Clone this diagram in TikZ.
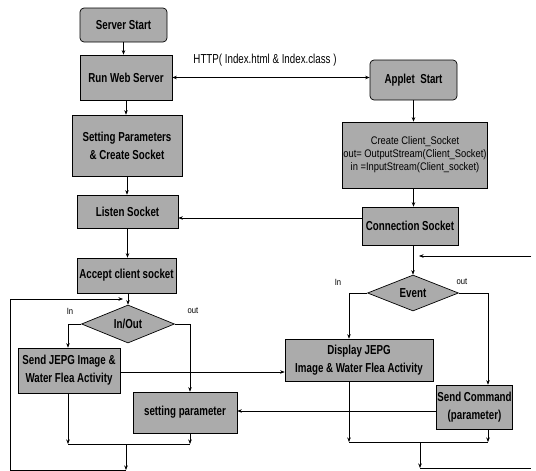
\documentclass[tikz,border=0pt]{standalone}
\usepackage{fontspec}
\setmainfont{Liberation Sans}
\newfontfamily\boxfont[FakeStretch=0.75]{Liberation Sans}
\newfontfamily\thinfont[FakeStretch=0.85]{Liberation Sans}
\usetikzlibrary{shapes.geometric,arrows.meta}
\begin{document}
\begin{tikzpicture}[x=1pt,y=-1pt,
  box/.style={draw=black, line width=0.7pt, fill=black!33, inner sep=1pt, align=center,
    font=\boxfont\bfseries\fontsize{13}{18}\selectfont},
  rbox/.style={box, rounded corners=4pt},
  thinbox/.style={box, font=\thinfont\fontsize{11}{13}\selectfont},
  dia/.style={diamond, draw=black, line width=0.7pt, fill=black!33, inner sep=0pt, aspect=2.4,
    font=\boxfont\bfseries\fontsize{13}{16}\selectfont},
  lbl/.style={inner sep=0pt, font=\thinfont\fontsize{9}{10}\selectfont},
  httplbl/.style={inner sep=0pt, font=\boxfont\fontsize{13}{15}\selectfont},
  arr/.style={-{Stealth[length=4.5pt,width=3.5pt]}, line width=0.5pt},
  dbl/.style={{Stealth[length=4.5pt,width=3.5pt]}-{Stealth[length=4.5pt,width=3.5pt]}, line width=0.5pt},
  ln/.style={line width=0.5pt}]
\useasboundingbox (0,0) rectangle (536,471);

% left column
\node[rbox, minimum width=87pt, minimum height=34pt] (ss) at (123.5,25) {Server Start};
\node[box, minimum width=92pt, minimum height=45pt] (rws) at (126,77.5) {Run Web Server};
\node[box, minimum width=110pt, minimum height=61pt] (sp) at (127,145.5) {Setting Parameters\\\& Create Socket};
\node[box, minimum width=101pt, minimum height=33pt] (ls) at (127.5,211.5) {Listen Socket};
\node[box, minimum width=99pt, minimum height=35pt] (acs) at (126.5,275.5) {Accept client socket};
\node[dia, minimum width=93pt, minimum height=38pt] (io) at (128,324) {In/Out};
\node[box, minimum width=102pt, minimum height=45pt] (sj) at (69,370.5) {Send JEPG Image \&\\Water Flea Activity};
\node[box, minimum width=104pt, minimum height=41pt] (spar) at (185,412.5) {setting parameter};

% right column
\node[rbox, minimum width=87pt, minimum height=40pt] (as) at (413.5,80) {Applet\ \ Start};
\node[thinbox, minimum width=144pt, minimum height=66pt] (cc) at (415,155) {Create\ Client\_Socket\\out= OutputStream(Client\_Socket)\\in =InputStream(Client\_socket)};
\node[box, minimum width=96pt, minimum height=38pt] (cs) at (410,226) {Connection Socket};
\node[dia, minimum width=91pt, minimum height=36pt] (ev) at (413,293) {Event};
\node[box, minimum width=148pt, minimum height=42pt] (dj) at (359,360) {Display JEPG\\Image \& Water Flea Activity};
\node[box, minimum width=65pt, minimum height=44pt] (sc) at (474.5,407) {Send Command\\(parameter)};

% labels
\node[httplbl] (http) at (265,60) {HTTP( Index.html \& Index.class )};
\node[lbl] (lin) at (70,311) {In};
\node[lbl] (lout) at (193,311) {out};
\node[lbl] (rin) at (338,282) {In};
\node[lbl] (rout) at (462,282) {out};

% left vertical flow
\draw[arr] (ss.south) -- (ss.south |- rws.north);
\draw[arr] (rws.south) -- (rws.south |- sp.north);
\draw[arr] (sp.south) -- (sp.south |- ls.north);
\draw[arr] (ls.south) -- (ls.south |- acs.north);
\draw[arr] (acs.south -| io.north) -- (io.north);

% right vertical flow
\draw[arr] (as.south) -- (as.south |- cc.north);
\draw[arr] (cc.south -| as.south) -- (as.south |- cs.north);
\draw[arr] (cs.south -| ev.north) -- (ev.north);

% cross connections
\draw[dbl] (rws.east) -- (rws.east -| as.west);
\draw[arr] (cs.west |- 0,218) -- (ls.east |- 0,218);
\draw[arr] (sj.east |- 0,372) -- (dj.west |- 0,372);
\draw[arr] (sc.west |- 0,411) -- (spar.east |- 0,411);

% In/Out branches
\draw[arr] (io.west) -| (sj.north -| 68,0);
\draw[arr] (io.east) -| (spar.north -| 190,0);
% Event branches
\draw[arr] (ev.west) -| (dj.north -| 349,0);
\draw[arr] (ev.east) -| (sc.north -| 488,0);

% left merge and loop
\coordinate (lm1) at (68,444);
\coordinate (lm2) at (190,444);
\coordinate (lm) at (126,444);
\coordinate (lb) at (126,470);
\coordinate (lc) at (10,470);
\coordinate (lt) at (10,299);
\coordinate (le) at (123,299);
\draw[arr] (sj.south -| lm1) -- (lm1);
\draw[arr] (spar.south -| lm2) -- (lm2);
\draw[ln] (lm1) -- (lm2);
\draw[arr] (lm) -- (lb);
\draw[arr] (lb) -- (lc) -- (lt) -- (le);

% right merge and loop
\coordinate (rm1) at (349,442);
\coordinate (rm2) at (488,442);
\coordinate (rm) at (420,442);
\coordinate (rb) at (420,468);
\coordinate (rr) at (531,468);
\coordinate (rt) at (531,256);
\coordinate (re) at (419,256);
\draw[arr] (dj.south -| rm1) -- (rm1);
\draw[arr] (sc.south -| rm2) -- (rm2);
\draw[ln] (rm1) -- (rm2);
\draw[arr] (rm) -- (rb);
\draw[ln] (rb) -- (rr);
\draw[arr] (rt) -- (re);
\end{tikzpicture}
\end{document}
